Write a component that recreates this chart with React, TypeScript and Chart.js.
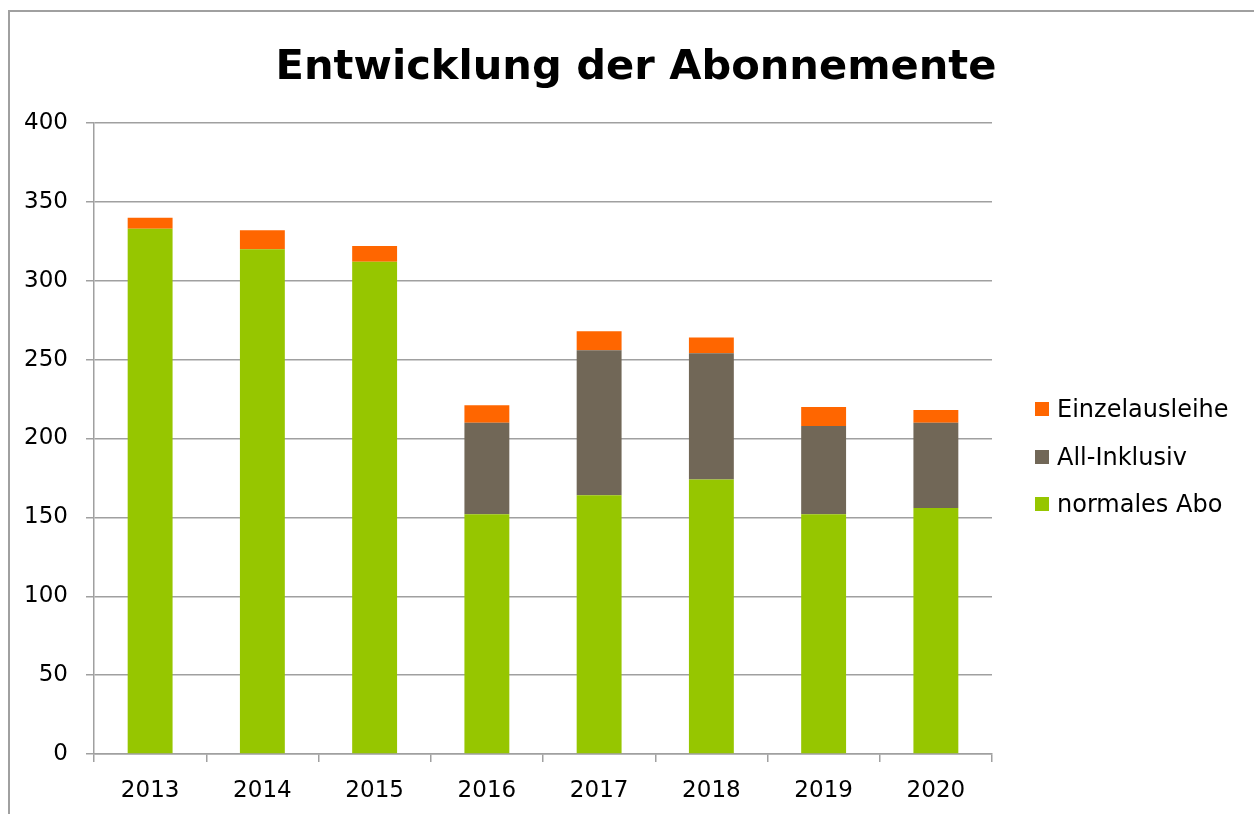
import React, { useEffect, useRef } from "react";
import { Chart, registerables } from "chart.js";

Chart.register(...registerables);

const categories = ["2013", "2014", "2015", "2016", "2017", "2018", "2019", "2020"];
const normalesAbo = [333, 320, 312, 152, 164, 174, 152, 156];
const allInklusiv = [0, 0, 0, 58, 92, 80, 56, 54];
const einzelausleihe = [7, 12, 10, 11, 12, 10, 12, 8];
const seriesNames = ["normales Abo", "All-Inklusiv", "Einzelausleihe"];
const seriesColors = ["#96C600", "#716757", "#FF6600"];
const yMin = 0;
const yMax = 400;
const yStep = 50;
const chartTitle = "Entwicklung der Abonnemente";

const FONT = "'DejaVu Sans', sans-serif";
const GRID = "#a0a0a0";

export default function App() {
  const ref = useRef<HTMLCanvasElement | null>(null);

  useEffect(() => {
    if (!ref.current) return;
    const values = [normalesAbo, allInklusiv, einzelausleihe];
    const chart = new Chart(ref.current, {
      type: "bar",
      data: {
        labels: categories,
        datasets: seriesNames.map((name, i) => ({
          label: name,
          data: values[i],
          backgroundColor: seriesColors[i],
          borderWidth: 0,
          barPercentage: 0.4,
          categoryPercentage: 1.0,
        })),
      },
      options: {
        responsive: false,
        animation: false,
        layout: { padding: { top: 111, left: 0, right: 262, bottom: 0 } },
        plugins: {
          legend: { display: false },
          title: { display: false },
          tooltip: { enabled: false },
        },
        scales: {
          x: {
            stacked: true,
            offset: true,
            grid: {
              display: true,
              drawOnChartArea: false,
              drawTicks: true,
              tickLength: 8,
              color: GRID,
              lineWidth: 1.5,
              offset: true,
            },
            border: { color: GRID, width: 1.5 },
            ticks: {
              color: "#000",
              font: { family: FONT, size: 23 },
              padding: 15,
              maxRotation: 0,
            },
            afterFit: (s: any) => {
              s.height = 60;
            },
          },
          y: {
            stacked: true,
            min: yMin,
            max: yMax,
            ticks: {
              stepSize: yStep,
              color: "#000",
              font: { family: FONT, size: 23 },
              padding: 18,
            },
            grid: { color: GRID, lineWidth: 1.5, tickLength: 8 },
            border: { color: GRID, width: 1.5 },
            afterFit: (s: any) => {
              s.width = 84;
            },
          },
        },
      },
    });
    return () => chart.destroy();
  }, []);

  const legendCenters = [409, 457, 504];
  const legendOrder = [2, 1, 0];

  return (
    <div>
      <div
        style={{
          position: "fixed",
          left: 8,
          top: 10,
          width: 1400,
          height: 1000,
          borderTop: `2px solid ${GRID}`,
          borderLeft: `2px solid ${GRID}`,
          boxSizing: "border-box",
        }}
      />
      <canvas
        ref={ref}
        width={1244}
        height={802}
        style={{ position: "fixed", left: 10, top: 12, width: 1244, height: 802 }}
      />
      <div
        style={{
          position: "fixed",
          left: 0,
          top: 40,
          width: 1272,
          textAlign: "center",
          fontFamily: FONT,
          fontWeight: "bold",
          fontSize: 41.6,
          lineHeight: "50px",
          color: "#000",
          whiteSpace: "nowrap",
        }}
      >
        {chartTitle}
      </div>
      {legendOrder.map((idx, row) => (
        <React.Fragment key={idx}>
          <div
            style={{
              position: "fixed",
              left: 1035,
              top: legendCenters[row] - 7,
              width: 14,
              height: 14,
              background: seriesColors[idx],
            }}
          />
          <div
            style={{
              position: "fixed",
              left: 1057,
              top: legendCenters[row] - 14.6,
              fontFamily: FONT,
              fontSize: 24,
              lineHeight: "30px",
              color: "#000",
              whiteSpace: "nowrap",
            }}
          >
            {seriesNames[idx]}
          </div>
        </React.Fragment>
      ))}
    </div>
  );
}
